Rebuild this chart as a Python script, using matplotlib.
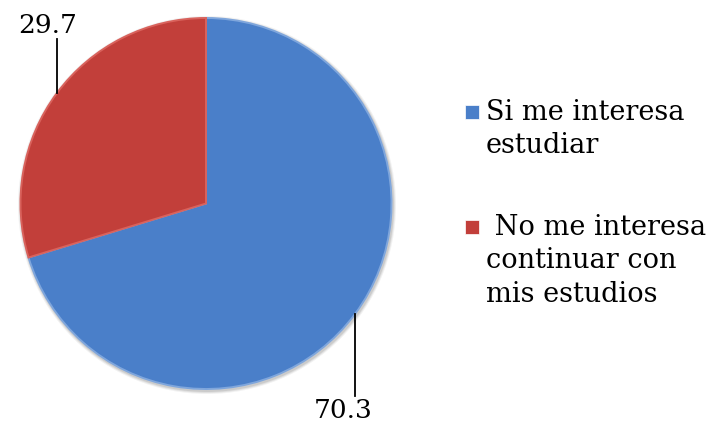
import matplotlib
matplotlib.use("Agg")
import matplotlib.pyplot as plt
from matplotlib.patches import Circle
import numpy as np

labels = ["Si me interesa\nestudiar", "No me interesa\ncontinuar con\nmis estudios"]
values = [70.3, 29.7]
value_text = ["70.3", "29.7"]

BLUE, RED = "#4a7fc9", "#c23f3a"
SERIF = ["DejaVu Serif"]

fig = plt.figure(figsize=(7.10, 4.31), dpi=100)
ax = fig.add_axes([0, 0, 1, 1])

cx, cy, r = 206, 226.5, 185.5
# faint soft shadow behind the pie
for k, a in [(3.5, 0.05), (2.5, 0.07), (1.5, 0.09)]:
    ax.add_patch(Circle((cx + 1, cy - 1.5), r + k, color="black", alpha=a, lw=0, zorder=0))

wedges, _ = ax.pie(values, colors=[BLUE, RED], startangle=90, counterclock=False,
                   center=(cx, cy), radius=r, frame=True,
                   wedgeprops=dict(edgecolor="#7fa6dc", linewidth=1.4, zorder=2))
wedges[1].set_edgecolor("#d9625c")
ax.set_xlim(0, 710); ax.set_ylim(0, 431)
ax.set_aspect("equal"); ax.axis("off")

# value labels with vertical leader lines
label_pos = [(343, 20), (48, 406)]
for w, txt, (lx, ly) in zip(wedges, value_text, label_pos):
    ang = np.deg2rad((w.theta1 + w.theta2) / 2)
    ex, ey = cx + r * np.cos(ang), cy + r * np.sin(ang)
    ax.plot([ex, ex], [ey, ly + (14 if ly < cy else -15)], color="black", lw=1.3, zorder=3)
    ax.text(lx, ly, txt, ha="center", va="center", fontsize=19, family=SERIF)

# legend drawn by hand so the marker sits on the first line
leg_y = [318, 203]
for lab, col, ly, pad in zip(labels, [BLUE, RED], leg_y, ["", " "]):
    ax.scatter([472], [ly], marker="s", s=110, color=col, edgecolor="white", lw=0.5)
    ax.text(486, ly + 14, pad + lab, ha="left", va="top", fontsize=19.5,
            family=SERIF, linespacing=1.3)

plt.savefig("out.png", dpi=100)
